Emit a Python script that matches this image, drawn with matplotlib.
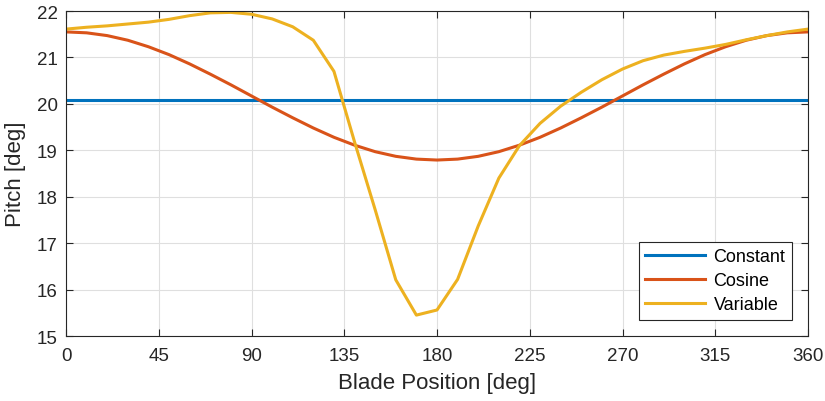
import matplotlib
matplotlib.use("Agg")
import matplotlib.pyplot as plt

# Blade azimuth positions [deg]
blade_pos = [0, 10, 20, 30, 40, 50, 60, 70, 80, 90, 100, 110, 120, 130, 140, 150,
             160, 170, 180, 190, 200, 210, 220, 230, 240, 250, 260, 270, 280, 290,
             300, 310, 320, 330, 340, 350, 360]

# Pitch schedules [deg]
pitch_constant = [20.08] * len(blade_pos)
pitch_cosine = [21.55, 21.53, 21.47, 21.37, 21.23, 21.06, 20.86, 20.64, 20.41, 20.17,
                19.93, 19.70, 19.48, 19.28, 19.11, 18.97, 18.87, 18.81, 18.79, 18.81,
                18.87, 18.97, 19.11, 19.28, 19.48, 19.70, 19.93, 20.17, 20.41, 20.64,
                20.86, 21.06, 21.23, 21.37, 21.47, 21.53, 21.55]
pitch_variable = [21.61, 21.65, 21.68, 21.72, 21.76, 21.82, 21.90, 21.96, 21.97, 21.93,
                  21.83, 21.66, 21.37, 20.70, 19.18, 17.72, 16.21, 15.45, 15.56, 16.22,
                  17.37, 18.40, 19.10, 19.58, 19.95, 20.25, 20.52, 20.75, 20.93, 21.05,
                  21.13, 21.20, 21.28, 21.38, 21.47, 21.55, 21.61]

series_names = ["Constant", "Cosine", "Variable"]
colors = ["#0072BD", "#D95319", "#EDB120"]

x_ticks = [0, 45, 90, 135, 180, 225, 270, 315, 360]
y_ticks = [15, 16, 17, 18, 19, 20, 21, 22]

plt.rcParams["font.family"] = ["Liberation Sans", "DejaVu Sans"]

fig = plt.figure(figsize=(8.25, 4.02), dpi=100)
ax = fig.add_axes([66 / 825, 65 / 402, 742 / 825, 325 / 402])

for y, name, c in zip([pitch_constant, pitch_cosine, pitch_variable], series_names, colors):
    ax.plot(blade_pos, y, color=c, lw=2.2, label=name)

ax.set_xlim(0, 360)
ax.set_ylim(15, 22)
ax.set_xticks(x_ticks)
ax.set_yticks(y_ticks)
ax.grid(True, color="#dfdfdf", lw=0.8)
ax.set_axisbelow(True)
ax.tick_params(direction="in", length=5, width=0.8, labelsize=13.5,
               top=True, right=True, colors="#262626", labelcolor="#262626")
ax.tick_params(axis="x", pad=8)
ax.tick_params(axis="y", pad=6)
for s in ax.spines.values():
    s.set_color("#262626")
    s.set_linewidth(0.8)

ax.set_xlabel("Blade Position [deg]", fontsize=16, color="#262626", labelpad=6)
ax.set_ylabel("Pitch [deg]", fontsize=16, color="#262626", labelpad=8)

leg = ax.legend(loc="lower right", fontsize=13, fancybox=False, edgecolor="#262626",
                framealpha=1, handlelength=3.3, borderaxespad=0.9, labelspacing=0.4,
                handletextpad=0.5, borderpad=0.35)
leg.get_frame().set_linewidth(0.8)

fig.savefig("out.png", dpi=100)
